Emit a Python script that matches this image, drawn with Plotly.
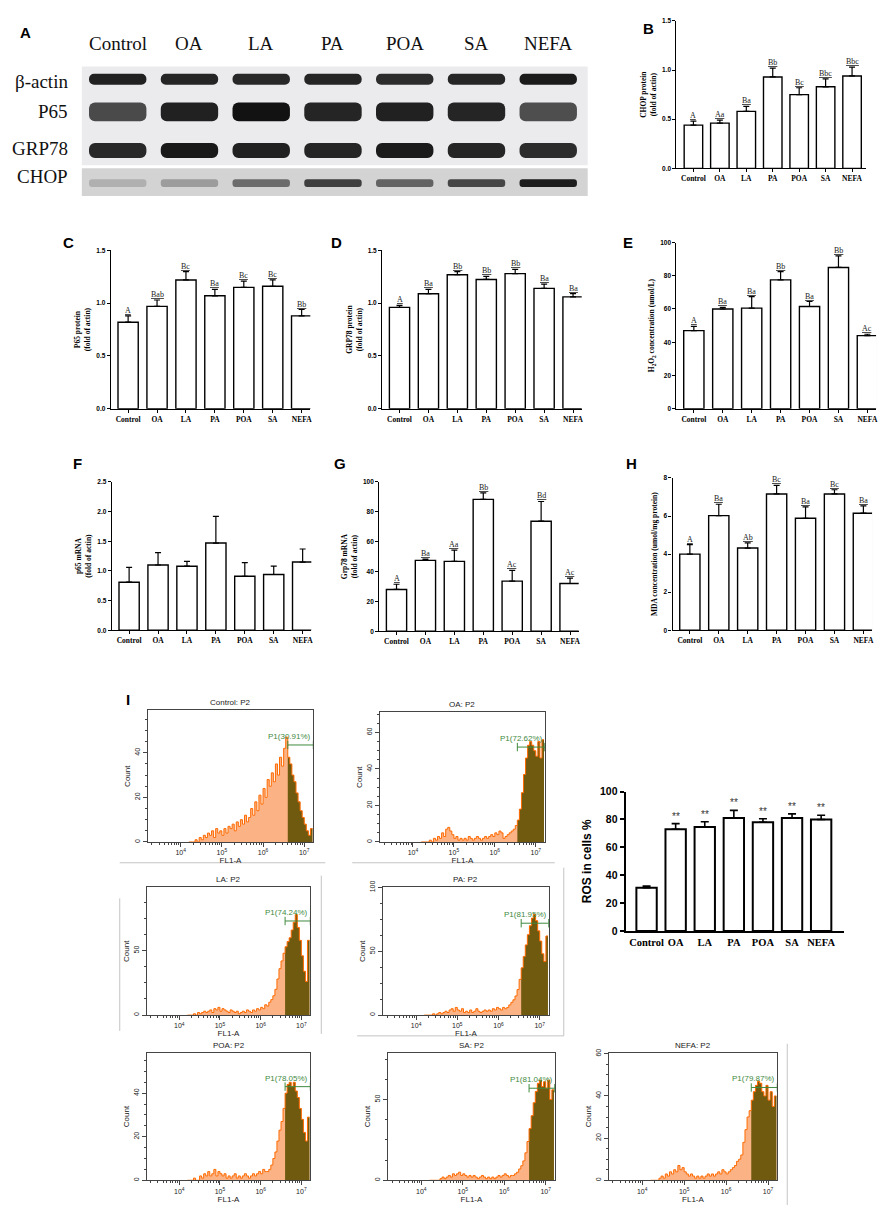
import numpy as np
import plotly.graph_objects as go

W, H = 893, 1205

groups = ["Control", "OA", "LA", "PA", "POA", "SA", "NEFA"]

# A: western blot, band darkness (0 = blank, 1 = black)
blot_rows = ["β-actin", "P65", "GRP78", "CHOP"]
band_actin = [0.90, 0.88, 0.86, 0.88, 0.84, 0.87, 0.93]
band_p65 = [0.68, 0.90, 0.98, 0.88, 0.90, 0.88, 0.66]
band_grp78 = [0.86, 0.94, 0.90, 0.88, 0.93, 0.88, 0.84]
band_chop = [0.16, 0.26, 0.50, 0.74, 0.55, 0.70, 0.92]

# B-H: mean, upper error, significance letters
chop_mean = [0.44, 0.46, 0.58, 0.93, 0.75, 0.83, 0.94]
chop_err = [0.04, 0.03, 0.05, 0.09, 0.07, 0.08, 0.09]
chop_sig = ["A", "Aa", "Ba", "Bb", "Bc", "Bbc", "Bbc"]

p65_mean = [0.82, 0.97, 1.22, 1.07, 1.15, 1.16, 0.88]
p65_err = [0.06, 0.06, 0.08, 0.06, 0.06, 0.06, 0.06]
p65_sig = ["A", "Bab", "Bc", "Ba", "Bc", "Bc", "Bb"]

grp78_mean = [0.96, 1.09, 1.27, 1.225, 1.28, 1.14, 1.06]
grp78_err = [0.02, 0.04, 0.03, 0.03, 0.04, 0.04, 0.03]
grp78_sig = ["A", "Ba", "Bb", "Bb", "Bb", "Ba", "Ba"]

h2o2_mean = [47, 60, 60.5, 77.5, 61.5, 85, 44]
h2o2_err = [2.5, 1, 7, 5, 3, 7, 0.8]
h2o2_sig = ["A", "Ba", "Ba", "Bb", "Ba", "Bb", "Ac"]

p65_mrna_mean = [0.81, 1.10, 1.08, 1.47, 0.91, 0.94, 1.15]
p65_mrna_err = [0.25, 0.21, 0.08, 0.45, 0.23, 0.14, 0.22]

grp78_mrna_mean = [28, 47.5, 46.8, 88.3, 33.6, 73.7, 32]
grp78_mrna_err = [3.5, 0.8, 7.5, 4.3, 7.2, 13.2, 3.6]
grp78_mrna_sig = ["A", "Ba", "Aa", "Bb", "Ac", "Bd", "Ac"]

mda_mean = [4.0, 6.02, 4.32, 7.16, 5.88, 7.16, 6.15]
mda_err = [0.5, 0.6, 0.27, 0.45, 0.6, 0.22, 0.38]
mda_sig = ["A", "Ba", "Ab", "Bc", "Ba", "Bc", "Ba"]

# I: ROS bar chart
ros_mean = [31, 73, 74.5, 81, 78, 81, 80]
ros_err = [1.2, 4, 3.8, 5.5, 2.5, 3, 3]
ros_sig = ["", "**", "**", "**", "**", "**", "**"]

# I: flow cytometry histograms, counts in log10(FL1-A) bins of 0.05 from 4.2 to 7.2
hist_start = 4.2
hist_step = 0.05
hist_control = [
    0, 0, 0, 1, 0, 2, 1, 3, 2, 4,
    3, 5, 2, 6, 4, 5, 3, 6, 4, 7,
    6, 8, 5, 9, 7, 10, 8, 12, 9, 11,
    15, 12, 18, 14, 21, 17, 24, 20, 28, 25,
    31, 27, 35, 30, 38, 34, 42, 47, 38, 35,
    30, 27, 22, 18, 14, 11, 8, 5, 3, 6,
]
hist_oa = [
    0, 0, 0, 0, 1, 0, 2, 1, 3, 2,
    5, 3, 7, 8, 6, 4, 2, 3, 1, 2,
    1, 2, 1, 3, 2, 1, 2, 3, 2, 1,
    2, 3, 2, 3, 4, 3, 5, 4, 6, 5,
    2, 3, 4, 5, 6, 7, 9, 12, 18, 27,
    37, 46, 53, 55, 53, 50, 47, 55, 46, 56,
]
hist_la = [
    0, 0, 0, 1, 0, 2, 1, 2, 3, 2,
    3, 4, 2, 5, 4, 6, 3, 5, 4, 3,
    2, 4, 3, 2, 3, 1, 2, 3, 2, 4,
    3, 2, 4, 3, 5, 4, 6, 5, 8, 7,
    10, 12, 15, 20, 28, 36, 42, 48, 53, 57,
    60, 66, 72, 78, 68, 58, 46, 34, 26, 58,
]
hist_pa = [
    0, 0, 0, 0, 1, 0, 1, 2, 1, 2,
    3, 2, 4, 5, 3, 6, 4, 3, 5, 2,
    3, 2, 4, 2, 3, 5, 3, 2, 3, 4,
    3, 4, 3, 5, 4, 6, 5, 4, 6, 5,
    6, 8, 10, 12, 15, 20, 28, 37, 46, 55,
    63, 70, 76, 79, 74, 66, 58, 48, 42, 62,
]
hist_poa = [
    0, 0, 0, 1, 0, 0, 2, 1, 3, 2,
    4, 2, 3, 5, 2, 4, 3, 2, 3, 1,
    2, 1, 2, 3, 1, 2, 1, 2, 3, 2,
    1, 2, 3, 2, 3, 4, 3, 5, 4, 4,
    5, 7, 10, 13, 18, 23, 27, 33, 40, 44,
    45, 43, 45, 41, 38, 33, 28, 22, 18, 29,
]
hist_sa = [
    0, 0, 0, 0, 0, 1, 2, 1, 2, 3,
    2, 4, 3, 4, 5, 3, 4, 3, 2, 3,
    2, 3, 2, 1, 2, 3, 2, 1, 2, 1,
    2, 1, 2, 3, 2, 3, 4, 3, 2, 3,
    3, 4, 5, 7, 9, 12, 17, 24, 32, 40,
    48, 55, 60, 62, 58, 61, 57, 62, 50, 56,
]
hist_nefa = [
    0, 0, 0, 0, 1, 2, 1, 3, 2, 4,
    3, 5, 4, 7, 5, 6, 4, 3, 2, 3,
    2, 1, 2, 1, 2, 1, 2, 3, 2, 3,
    2, 3, 4, 3, 5, 4, 3, 4, 5, 6,
    7, 9, 10, 12, 18, 24, 30, 33, 38, 42,
    45, 47, 46, 42, 40, 45, 38, 42, 35, 40,
]
hist_names = ["Control", "OA", "LA", "PA", "POA", "SA", "NEFA"]
hist_gate_pct = ["30.91%", "72.62%", "74.24%", "81.95%", "78.05%", "81.04%", "79.87%"]
hist_gate_from = [6.6, 6.55, 6.6, 6.55, 6.6, 6.6, 6.6]
hist_gate_count = [43.5, 52, 73, 72, 43, 57, 44]
hist_ymax = [59, 71, 99, 100, 58.6, 79, 60.5]
hist_ydtick = [20, 20, 50, 50, 20, 50, 20]


def px_x(a, b):
    return [a / W, b / W]


def px_y(top, bottom):
    return [1 - bottom / H, 1 - top / H]


SERIF = "Liberation Serif"
SANS = "Liberation Sans"

fig = go.Figure()
layout = {}
annotations = []
shapes = []

# ---------------- A: blot ----------------
row_y = [65, 98, 137, 170]
row_h = [11, 19, 15, 8]
bands = [band_actin, band_p65, band_grp78, band_chop]
for yc, hgt, vals in zip(row_y, row_h, bands):
    fig.add_trace(go.Bar(
        x=groups, y=[hgt] * 7, base=[yc - hgt / 2] * 7, width=0.8,
        marker=dict(color=vals, colorscale=[[0, "#d0d0d0"], [0.5, "#6c6c6c"], [1, "#0e0e0e"]],
                    cmin=0, cmax=1, cornerradius=6, line=dict(width=0)),
        xaxis="x", yaxis="y", hoverinfo="skip"))
layout["xaxis"] = dict(domain=px_x(74, 581), range=[-0.5, 6.55], visible=False, anchor="y")
layout["yaxis"] = dict(domain=px_y(45, 183), range=[183, 45], visible=False, anchor="x")
shapes.append(dict(type="rect", xref="paper", yref="paper", x0=74 / W, x1=581 / W,
                   y0=1 - 152 / H, y1=1 - 52 / H, fillcolor="#ebebee", line=dict(width=0), layer="below"))
shapes.append(dict(type="rect", xref="paper", yref="paper", x0=74 / W, x1=581 / W,
                   y0=1 - 183 / H, y1=1 - 155 / H, fillcolor="#d3d3d3", line=dict(width=0), layer="below"))
for g in groups:
    annotations.append(dict(x=g, xref="x", y=1 - 29 / H, yref="paper", text=g, showarrow=False,
                            xanchor="center", yanchor="middle",
                            font=dict(family=SERIF, size=19, color="#111")))
for name, yc in zip(blot_rows, [67, 98, 135, 163]):
    annotations.append(dict(x=62 / W, xref="paper", y=1 - yc / H, yref="paper", text=name,
                            showarrow=False, xanchor="right", yanchor="middle",
                            font=dict(family=SERIF, size=19, color="#111")))


# ---------------- B-H bar panels ----------------
def bar_panel(n, means, errs, sigs, box, yrange, dtick, ytitle, xrange):
    xa, ya = f"x{n}", f"y{n}"
    fig.add_trace(go.Bar(
        x=groups, y=means, width=0.7, xaxis=xa, yaxis=ya, hoverinfo="skip",
        marker=dict(color="white", line=dict(color="black", width=1.4)),
        error_y=dict(type="data", array=errs, arrayminus=[0] * 7, symmetric=False,
                     color="black", thickness=1.2, width=3)))
    layout[f"xaxis{n}"] = dict(
        domain=px_x(box[0], box[1]), anchor=ya, type="category", range=xrange,
        showline=True, linecolor="black", linewidth=1.2, ticks="outside", ticklen=3,
        tickcolor="black", tickfont=dict(family=SERIF, size=7.5, color="black", weight="bold"),
        showgrid=False, fixedrange=True)
    layout[f"yaxis{n}"] = dict(
        domain=px_y(box[2], box[3]), anchor=xa, range=yrange, dtick=dtick,
        tickformat=".1f" if dtick < 1 else "d",
        showline=True, linecolor="black", linewidth=1.2, ticks="outside", ticklen=3,
        tickcolor="black", tickfont=dict(family=SANS, size=6.5, color="black", weight="bold"),
        showgrid=False, zeroline=False,
        title=dict(text=ytitle, standoff=4, font=dict(family=SERIF, size=7.5, color="black", weight="bold")))
    if sigs:
        for g, m, e, s in zip(groups, means, errs, sigs):
            annotations.append(dict(x=g, xref=xa, y=m + e, yref=ya, text=s,
                                    showarrow=False, yanchor="bottom", yshift=-1,
                                    font=dict(family=SERIF, size=8, color="#222", lineposition="under")))


bar_panel(2, chop_mean, chop_err, chop_sig, (670, 860, 6, 155), [0, 1.5], 0.5,
          "CHOP protein<br>(fold of actin)", [-0.64, 6.53])
bar_panel(3, p65_mean, p65_err, p65_sig, (103, 303, 238, 398), [0, 1.5], 0.5,
          "P65 protein<br>(fold of actin)", [-0.6, 6.3])
bar_panel(4, grp78_mean, grp78_err, grp78_sig, (375, 575, 238, 398), [0, 1.5], 0.5,
          "GRP78 protein<br>(fold of actin)", [-0.6, 6.3])
bar_panel(5, h2o2_mean, h2o2_err, h2o2_sig, (670, 870, 230, 398), [0, 100], 20,
          "H<sub>2</sub>O<sub>2</sub> concentration (umol/L)", [-0.6, 6.3])
bar_panel(6, p65_mrna_mean, p65_mrna_err, None, (104, 304, 472, 622), [0, 2.5], 0.5,
          "p65 mRNA<br>(fold of actin)", [-0.6, 6.3])
bar_panel(7, grp78_mrna_mean, grp78_mrna_err, grp78_mrna_sig, (372, 572, 472, 623), [0, 100], 20,
          "Grp78 mRNA<br>(fold of actin)", [-0.6, 6.3])
bar_panel(8, mda_mean, mda_err, mda_sig, (666, 866, 468, 622), [0, 8], 2,
          "MDA concentration (umol/mg protein)", [-0.6, 6.3])

# ---------------- I: ROS bars ----------------
fig.add_trace(go.Bar(
    x=groups, y=ros_mean, width=0.7, xaxis="x9", yaxis="y9", hoverinfo="skip",
    marker=dict(color="white", line=dict(color="black", width=2)),
    error_y=dict(type="data", array=ros_err, arrayminus=[0] * 7, symmetric=False,
                 color="black", thickness=1.6, width=4)))
layout["xaxis9"] = dict(
    domain=px_x(619, 838), anchor="y9", type="category", range=[-0.72, 6.79],
    showline=True, linecolor="black", linewidth=2, ticks="", showgrid=False,
    tickfont=dict(family=SERIF, size=10.5, color="black", weight="bold"))
layout["yaxis9"] = dict(
    domain=px_y(785, 926), anchor="x9", range=[0, 100], dtick=20,
    showline=True, linecolor="black", linewidth=2, ticks="outside", ticklen=4, tickwidth=2,
    tickcolor="black", showgrid=False, zeroline=False,
    tickfont=dict(family=SANS, size=10.5, color="black", weight="bold"),
    title=dict(text="ROS in cells %", standoff=6, font=dict(family=SANS, size=12, color="black", weight="bold")))
for g, m, e, s in zip(groups, ros_mean, ros_err, ros_sig):
    if s:
        annotations.append(dict(x=g, xref="x9", y=m + e, yref="y9", text=s, showarrow=False,
                                yanchor="bottom", yshift=0, font=dict(family=SANS, size=10, color="#333")))

# ---------------- I: flow histograms ----------------
hist_boxes = [
    (140, 306, 703, 836), (373, 538, 705, 836),
    (139, 303, 882, 1011), (376, 542, 882, 1011),
    (139, 303, 1049, 1178), (381, 548, 1049, 1178), (602, 771, 1049, 1178),
]
hist_counts = [hist_control, hist_oa, hist_la, hist_pa, hist_poa, hist_sa, hist_nefa]
x_lo, x_hi = 3.2, 7.22
minor_x = [d + np.log10(k) for d in range(3, 8) for k in range(2, 10) if x_lo < d + np.log10(k) < x_hi]

for i, counts in enumerate(hist_counts):
    n = 10 + i
    xa, ya = f"x{n}", f"y{n}"
    edges = hist_start + hist_step * np.arange(len(counts) + 1)
    yy = np.array(list(counts) + [counts[-1]], dtype=float)
    fig.add_trace(go.Scatter(x=edges, y=yy, mode="lines", line_shape="hv", fill="tozeroy",
                             fillcolor="#fbb386", line=dict(width=0), xaxis=xa, yaxis=ya, hoverinfo="skip"))
    keep = edges >= hist_gate_from[i] - 1e-9
    fig.add_trace(go.Scatter(x=edges[keep], y=yy[keep], mode="lines", line_shape="hv", fill="tozeroy",
                             fillcolor="#6f5a0f", line=dict(width=0), xaxis=xa, yaxis=ya, hoverinfo="skip"))
    fig.add_trace(go.Scatter(x=edges, y=yy, mode="lines", line_shape="hv",
                             line=dict(color="#ff6a00", width=1), xaxis=xa, yaxis=ya, hoverinfo="skip"))
    gy = hist_gate_count[i]
    fig.add_trace(go.Scatter(x=[hist_gate_from[i], x_hi], y=[gy, gy], mode="lines+markers",
                             line=dict(color="#3f8a3f", width=1),
                             marker=dict(symbol="line-ns-open", size=6, color="#3f8a3f",
                                         line=dict(width=1, color="#3f8a3f")),
                             xaxis=xa, yaxis=ya, hoverinfo="skip", cliponaxis=False))
    annotations.append(dict(x=x_hi, xref=xa, y=gy, yref=ya, text=f"P1({hist_gate_pct[i]})",
                            showarrow=False, xanchor="right", yanchor="bottom", yshift=2,
                            font=dict(family=SANS, size=8, color="#3f8a3f")))
    annotations.append(dict(x=0.5, xref=f"{xa} domain", y=1, yref=f"{ya} domain",
                            text=f"{hist_names[i]}: P2", showarrow=False, xanchor="center",
                            yanchor="bottom", yshift=1,
                            font=dict(family=SANS, size=8, color="#222")))
    b = hist_boxes[i]
    layout[f"xaxis{n}"] = dict(
        domain=px_x(b[0], b[1]), anchor=ya, range=[x_lo, x_hi],
        tickvals=[4, 5, 6, 7], ticktext=["10<sup>4</sup>", "10<sup>5</sup>", "10<sup>6</sup>", "10<sup>7</sup>"],
        ticks="outside", ticklen=4, tickcolor="#444", showgrid=False, zeroline=False,
        showline=True, mirror=True, linecolor="#444", linewidth=1,
        minor=dict(tickvals=minor_x, ticks="outside", ticklen=2, tickcolor="#444", showgrid=False),
        tickfont=dict(family=SANS, size=7, color="#222"),
        title=dict(text="FL1-A", standoff=1, font=dict(family=SANS, size=8, color="#222")))
    layout[f"yaxis{n}"] = dict(
        domain=px_y(b[2], b[3]), anchor=xa, range=[0, hist_ymax[i]], dtick=hist_ydtick[i],
        ticks="outside", ticklen=4, tickcolor="#444", showgrid=False, zeroline=False,
        showline=True, mirror=True, linecolor="#444", linewidth=1, tickangle=-90,
        minor=dict(dtick=hist_ydtick[i] / 4, ticks="outside", ticklen=2, tickcolor="#444", showgrid=False),
        tickfont=dict(family=SANS, size=7, color="#222"),
        title=dict(text="Count", standoff=2, font=dict(family=SANS, size=8, color="#222")))

# thin grey frame lines left over from the composite
for x0, y0, x1, y1 in [(112, 857, 318, 857), (345, 857, 548, 857), (314, 870, 314, 1030),
                       (112, 893, 112, 1027), (350, 1032, 557, 1032), (557, 862, 557, 1032),
                       (781, 1040, 781, 1205)]:
    shapes.append(dict(type="line", xref="paper", yref="paper", x0=x0 / W, x1=x1 / W,
                       y0=1 - y0 / H, y1=1 - y1 / H, line=dict(color="#c4c4c4", width=1)))

# panel letters
for letter, x, y in [("A", 18, 18), ("B", 642, 14), ("C", 61, 230), ("D", 329, 230), ("E", 621, 230),
                     ("F", 70, 453), ("G", 333, 453), ("H", 625, 453), ("I", 120, 692)]:
    annotations.append(dict(x=x / W, xref="paper", y=1 - y / H, yref="paper", text=letter,
                            showarrow=False, xanchor="center", yanchor="middle",
                            font=dict(family=SANS, size=15, color="black", weight="bold")))

fig.update_layout(
    width=W, height=H, autosize=False, margin=dict(l=0, r=0, t=0, b=0),
    paper_bgcolor="white", plot_bgcolor="white", showlegend=False, barmode="overlay",
    font=dict(family=SANS, color="black"),
    annotations=annotations, shapes=shapes, **layout)

fig.write_html("out.html")
